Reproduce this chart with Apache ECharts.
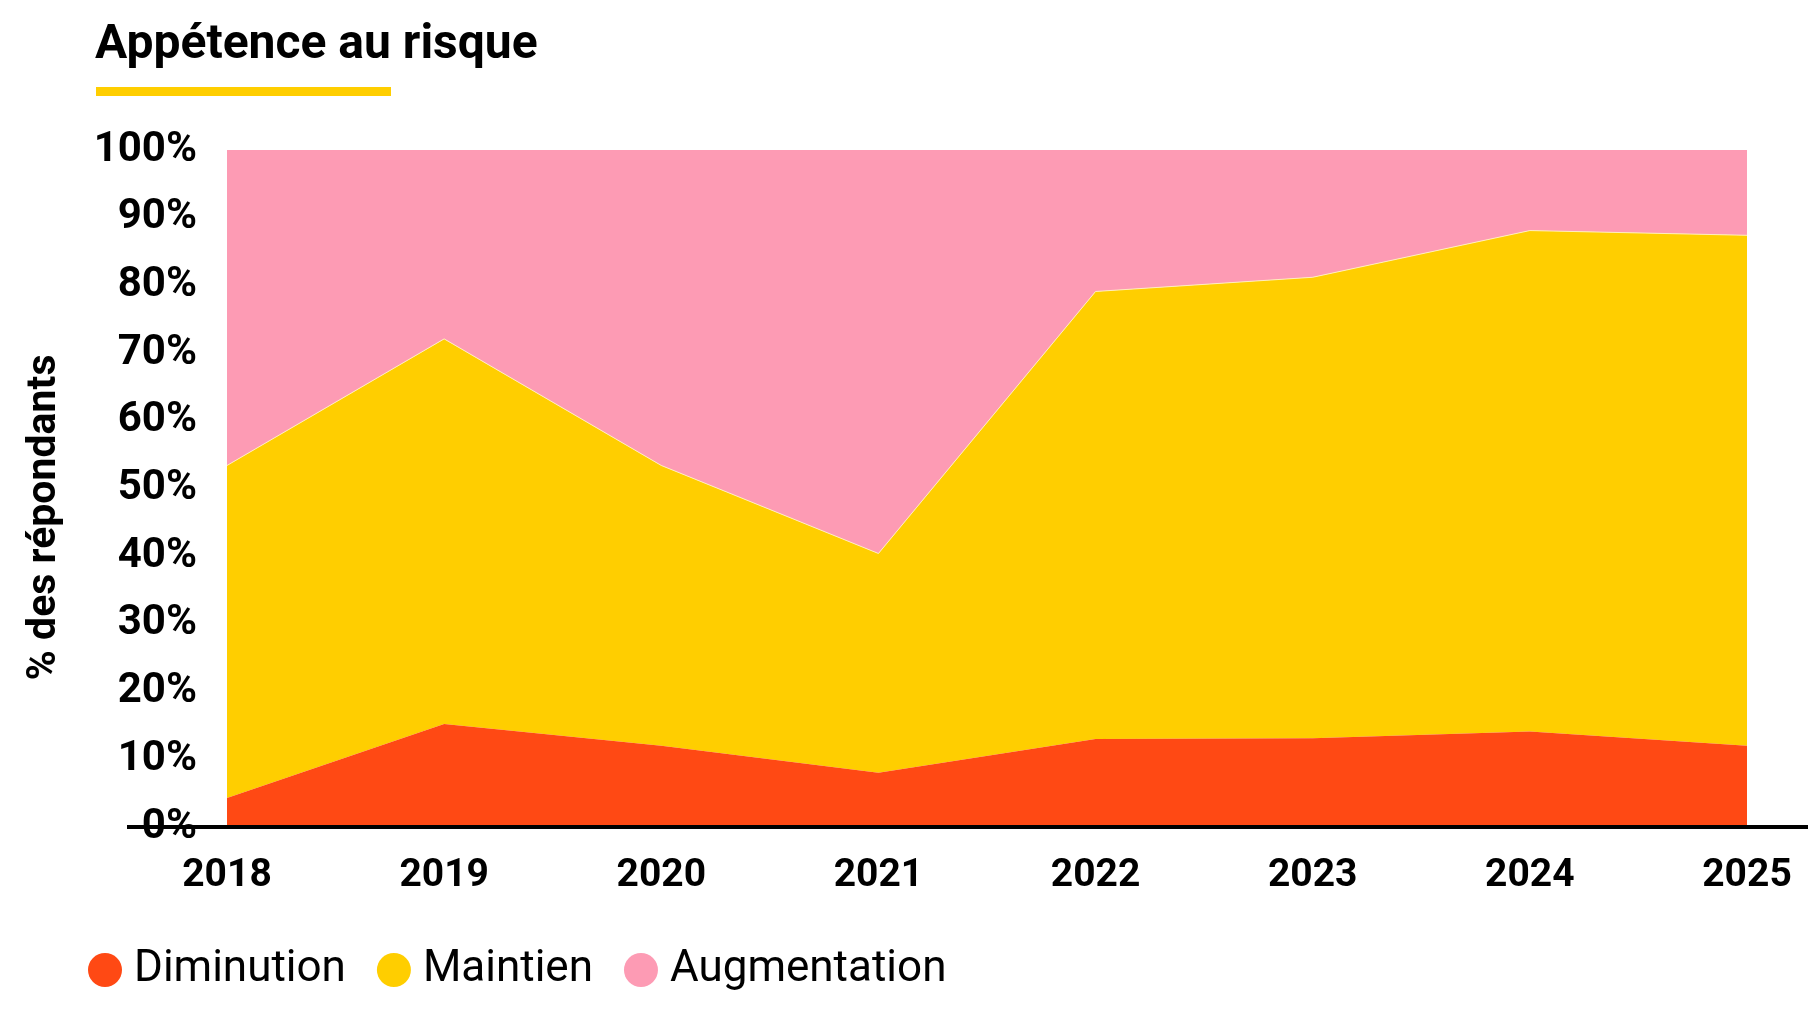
<!DOCTYPE html>
<html>
<head>
<meta charset="utf-8">
<script src="https://cdn.jsdelivr.net/npm/echarts@6/dist/echarts.min.js"></script>
<style>
html,body{margin:0;padding:0;background:#fff;}
#chart{width:1808px;height:1019px;}
</style>
</head>
<body>
<div id="chart"></div>
<script>
const categories = ['2018','2019','2020','2021','2022','2023','2024','2025'];
const diminution   = [4.3, 15.2, 12.0, 8.0, 13.0, 13.1, 14.1, 12.0];
const maintien     = [49.1, 56.9, 41.4, 32.4, 66.1, 68.1, 74.0, 75.4];
const augmentation = [46.6, 27.9, 46.6, 59.6, 20.9, 18.8, 11.9, 12.6];
const seriesNames = ['Diminution','Maintien','Augmentation'];
const colors = ['#FF4914','#FFCE00','#FD9BB4'];

const FONT = 'Roboto';
const chart = echarts.init(document.getElementById('chart'), null, {renderer:'canvas'});

const option = {
  animation: false,
  color: colors,
  title: {
    text: 'Appétence au risque',
    left: 90, top: 17,
    textStyle: {fontFamily: FONT, fontWeight: 'bold', fontSize: 48, color: '#000'}
  },
  legend: {
    data: seriesNames,
    left: 83, top: 943,
    icon: 'circle',
    itemWidth: 34, itemHeight: 34,
    itemGap: 31,
    textStyle: {fontFamily: FONT, fontSize: 44, color: '#000', padding: [0,0,0,7]}
  },
  grid: {left: 227, right: 61, top: 150, bottom: 192, containLabel: false},
  xAxis: {
    type: 'category',
    data: categories,
    boundaryGap: false,
    axisLine: {show: false},
    axisTick: {show: false},
    splitLine: {show: false},
    axisLabel: {fontFamily: FONT, fontWeight: 'bold', fontSize: 39, color: '#000', margin: 30}
  },
  yAxis: {
    type: 'value',
    min: 0, max: 100, interval: 10,
    name: '% des répondants',
    nameLocation: 'middle',
    nameRotate: 90,
    nameGap: 162,
    nameTextStyle: {fontFamily: FONT, fontWeight: 'bold', fontSize: 41, color: '#000', padding: [0, 58, 0, 0]},
    axisLine: {show: false},
    axisTick: {show: false},
    splitLine: {show: false},
    axisLabel: {formatter: '{value}%', fontFamily: FONT, fontWeight: 'bold', fontSize: 42, color: '#000', margin: 30}
  },
  series: [
    {name: seriesNames[0], type: 'line', stack: 'total', data: diminution, symbol: 'none',
     lineStyle: {width: 0}, areaStyle: {color: colors[0], opacity: 1}, z: 3},
    {name: seriesNames[1], type: 'line', stack: 'total', data: maintien, symbol: 'none',
     lineStyle: {width: 1, color: 'rgba(255,240,200,0.9)'}, areaStyle: {color: colors[1], opacity: 1}, z: 2},
    {name: seriesNames[2], type: 'line', stack: 'total', data: augmentation, symbol: 'none',
     lineStyle: {width: 0}, areaStyle: {color: colors[2], opacity: 1}, z: 1}
  ]
};
chart.setOption(option);

const y0 = chart.convertToPixel({yAxisIndex: 0}, 0);
chart.setOption({
  graphic: [
    {type: 'rect', left: 96, top: 87, shape: {width: 295, height: 9}, style: {fill: '#FFCE00'}},
    {type: 'line', shape: {x1: 127, y1: y0, x2: 1808, y2: y0}, style: {stroke: '#000', lineWidth: 4}, z: 100}
  ]
});
</script>
</body>
</html>
